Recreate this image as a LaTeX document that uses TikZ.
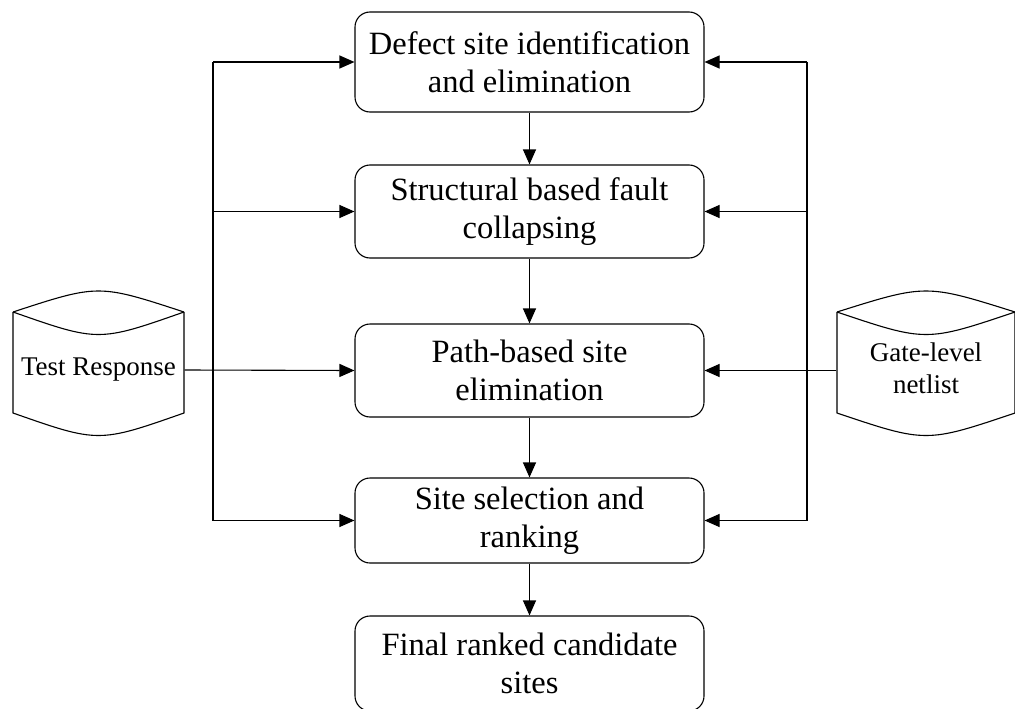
\documentclass[tikz,border=0pt]{standalone}
\usepackage{fontspec}
\setmainfont{Liberation Serif}
\usetikzlibrary{arrows.meta}
\begin{document}
\begin{tikzpicture}[x=1pt,y=-1pt,
  line width=1.1pt,
  stage/.style={draw, rounded corners=15pt, minimum width=349pt, inner sep=0pt, align=center, font=\fontsize{32.5}{38}\selectfont},
  dbtext/.style={inner sep=0pt, align=center, font=\fontsize{27}{32}\selectfont},
  arr/.style={-{Triangle[length=15pt,width=13pt]}},
]
\useasboundingbox (0,0) rectangle (1015,709);
% process stages
\node[stage, minimum height=100pt] (b1) at (529.5,62) {Defect site identification\\and elimination};
\node[stage, minimum height=93pt] (b2) at (529.5,211.5) {Structural based fault\\collapsing};
\node[stage, minimum height=93pt] (b3) at (529.5,370.5) {Path-based site\\elimination};
\node[stage, minimum height=85pt] (b4) at (529.5,520.5) {Site selection and\\ranking};
\node[stage, minimum height=95pt] (b5) at (529.5,663.5) {Final ranked candidate\\sites};
% databases
\node[dbtext, minimum width=171pt] (tr) at (98.5,370) {Test Response};
\draw (13,312) .. controls (98.5,284) .. (184,312);
\draw (13,312) .. controls (98.5,342) .. (184,312);
\draw (13,312) -- (13,413) .. controls (98.5,443) .. (184,413) -- (184,312);
\node[dbtext, minimum width=178pt] (gl) at (926,368) {Gate-level\\netlist};
\draw (837,312) .. controls (926,284) .. (1015,312);
\draw (837,312) .. controls (926,342) .. (1015,312);
\draw (837,312) -- (837,413) .. controls (926,443) .. (1015,413) -- (1015,312);
% vertical flow
\draw[arr] (b1) -- (b2);
\draw[arr] (b2) -- (b3);
\draw[arr] (b3) -- (b4);
\draw[arr] (b4) -- (b5);
% side buses
\coordinate (L) at (213,0);
\coordinate (R) at (807,0);
\draw (L |- b1.west) -- (L |- b4.west);
\draw (R |- b1.east) -- (R |- b4.east);
\foreach \b in {b1,b2,b4} {
  \draw[arr] (L |- \b.west) -- (\b.west);
  \draw[arr] (R |- \b.east) -- (\b.east);
}
\draw[arr] (tr.east) -- (b3.west);
\draw[arr] (gl.west |- b3.east) -- (b3.east);
\end{tikzpicture}
\end{document}
